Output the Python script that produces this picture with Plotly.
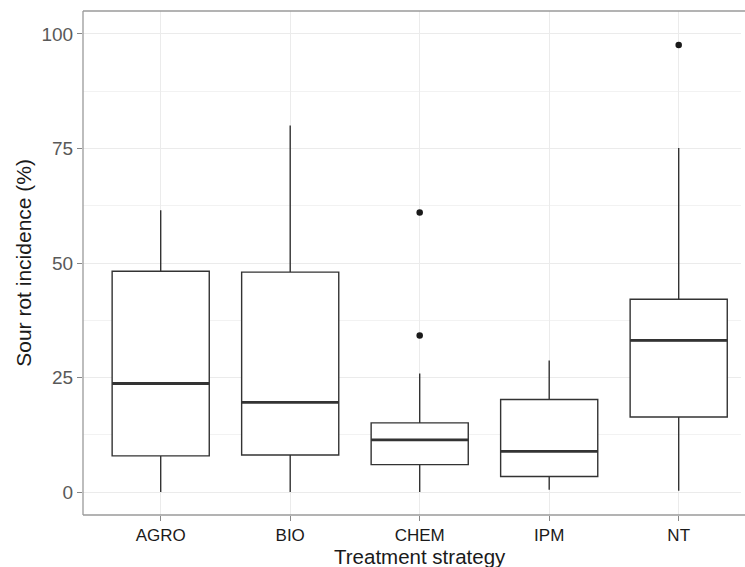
import plotly.graph_objects as go

categories = ["AGRO", "BIO", "CHEM", "IPM", "NT"]
lower_whisker = [0.0, 0.0, 0.0, 0.5, 0.3]
q1_values = [7.9, 8.1, 6.0, 3.4, 16.4]
median_values = [23.7, 19.6, 11.4, 8.9, 33.1]
q3_values = [48.2, 48.0, 15.1, 20.2, 42.1]
upper_whisker = [61.5, 80.0, 25.9, 28.7, 75.1]
outlier_groups = ["CHEM", "CHEM", "NT"]
outlier_values = [34.2, 61.0, 97.6]
y_tick_values = [0, 25, 50, 75, 100]

box_half = 0.375
xpos = list(range(len(categories)))

fig = go.Figure()
fig.add_trace(go.Box(
    x=xpos, q1=q1_values, median=median_values, q3=q3_values,
    lowerfence=lower_whisker, upperfence=upper_whisker,
    width=2 * box_half, whiskerwidth=0,
    fillcolor="white", line=dict(color="#333333", width=1.4),
    boxpoints=False, showlegend=False, hoverinfo="skip",
))

mx, my = [], []
for i, m in enumerate(median_values):
    mx += [i - box_half, i + box_half, None]
    my += [m, m, None]
fig.add_trace(go.Scatter(x=mx, y=my, mode="lines",
                         line=dict(color="#333333", width=2.8),
                         showlegend=False, hoverinfo="skip"))

fig.add_trace(go.Scatter(
    x=[categories.index(g) for g in outlier_groups], y=outlier_values,
    mode="markers", marker=dict(color="#1a1a1a", size=6.5),
    showlegend=False, hoverinfo="skip"))

font_family = "Liberation Sans, Arial, sans-serif"
border = dict(color="#9a9a9a", width=1.3)
fig.update_layout(
    template="none",
    width=745, height=567,
    margin=dict(l=83, r=0, t=11, b=52),
    paper_bgcolor="white", plot_bgcolor="white",
    font=dict(family=font_family),
    showlegend=False,
    shapes=[
        dict(type="line", xref="paper", yref="paper", x0=0, x1=1, y0=1, y1=1, line=border, layer="above"),
        dict(type="line", xref="paper", yref="paper", x0=0, x1=1, y0=0, y1=0, line=border, layer="above"),
        dict(type="line", xref="paper", yref="paper", x0=0, x1=0, y0=0, y1=1, line=border, layer="above"),
    ],
    annotations=[
        dict(text=" ", x=1, xref="paper", xanchor="right", y=0.5, yref="paper",
             yanchor="middle", width=4, height=498, bgcolor="white",
             borderpad=0, borderwidth=0, showarrow=False),
        dict(text="Treatment strategy", x=2, xref="x", xanchor="center",
             y=-0.056, yref="paper", yanchor="top", showarrow=False,
             font=dict(size=20.5, color="#1a1a1a")),
        dict(text="Sour rot incidence (%)", x=-0.091, xref="paper", xanchor="center",
             y=0.5, yref="paper", yanchor="middle", textangle=-90, showarrow=False,
             font=dict(size=21, color="#1a1a1a")),
    ],
)
fig.update_xaxes(
    range=[-0.6, 4.512], tickmode="array", tickvals=xpos, ticktext=categories,
    showgrid=True, gridcolor="#ebebeb", gridwidth=1.2,
    showline=False, mirror=False,
    ticks="outside", ticklen=5, tickcolor="#888888", tickwidth=1.2,
    tickfont=dict(size=17, color="#1a1a1a"),
    zeroline=False,
)
fig.update_yaxes(
    range=[-5, 105], tickmode="array", tickvals=y_tick_values,
    showgrid=True, gridcolor="#ebebeb", gridwidth=1.2,
    minor=dict(tickmode="array", tickvals=[12.5, 37.5, 62.5, 87.5],
               showgrid=True, gridcolor="#f2f2f2", gridwidth=0.8, ticks=""),
    showline=False, mirror=False,
    ticks="outside", ticklen=5, tickcolor="#888888", tickwidth=1.2,
    tickfont=dict(size=19, color="#595959"),
    zeroline=False,
)

fig.write_html("out.html")
